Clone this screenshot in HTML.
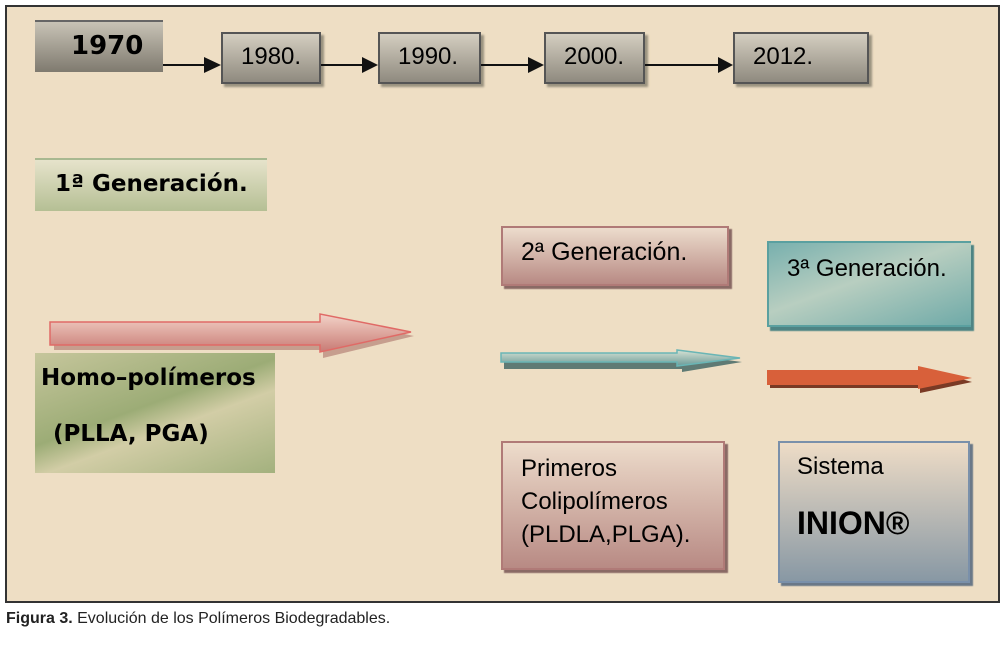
<!DOCTYPE html>
<html><head><meta charset="utf-8"><style>
body{margin:0;width:1007px;height:645px;background:#fff;position:relative;overflow:hidden;font-family:"Liberation Sans",sans-serif}
.frame{position:absolute;left:5px;top:5px;width:991px;height:594px;border:2px solid #333;background:#eedec4}
.b{position:absolute;box-sizing:border-box}
.yr{background:linear-gradient(#d4cec0,#8f8a7f);border:2px solid #555;box-shadow:3px 3px 2px #9a927f;font-size:24px;padding:9px 0 0 18px}
.cap{position:absolute;left:6px;top:610px;font-size:16px;color:#222}
</style></head><body>
<div class="frame"></div>
<div class="b" style="left:35px;top:20px;width:128px;height:52px;border-top:2px solid #666;font-family:'DejaVu Sans',sans-serif;font-weight:bold;font-size:26px;padding:9px 0 0 36px;background-image:linear-gradient(#c8c3b6,#7f7a6f)">1970</div>
<div class="b yr" style="left:221px;top:32px;width:100px;height:52px">1980.</div>
<div class="b yr" style="left:378px;top:32px;width:103px;height:52px">1990.</div>
<div class="b yr" style="left:544px;top:32px;width:101px;height:52px">2000.</div>
<div class="b yr" style="left:733px;top:32px;width:136px;height:52px">2012.</div>
<svg style="position:absolute;left:0;top:0" width="1007" height="645">
<g stroke="#111" stroke-width="2"><line x1="163" y1="65" x2="206" y2="65"/><line x1="321" y1="65" x2="364" y2="65"/><line x1="481" y1="65" x2="530" y2="65"/><line x1="645" y1="65" x2="720" y2="65"/></g>
<g fill="#111"><path d="M204,57 L221,65 L204,73Z"/><path d="M362,57 L378,65 L362,73Z"/><path d="M528,57 L544,65 L528,73Z"/><path d="M718,57 L733,65 L718,73Z"/></g>
<defs>
<linearGradient id="pk" x1="0" y1="0" x2="0" y2="1"><stop offset="0" stop-color="#f3d3c8"/><stop offset="1" stop-color="#c87a74"/></linearGradient>
<linearGradient id="tl" x1="0" y1="0" x2="0" y2="1"><stop offset="0" stop-color="#d8e3d4"/><stop offset="1" stop-color="#6a9a98"/></linearGradient>
</defs>
<path d="M52,322 L321,322 L321,314 L412,333 L321,355 L321,347 L52,347Z" fill="#9d5d58" opacity=".5" transform="translate(2,3)"/>
<path d="M50,322 L320,322 L320,314 L411,332 L320,352 L320,345 L50,345Z" fill="url(#pk)" stroke="#e06a66" stroke-width="1.5"/>
<path d="M502,354 L680,354 L680,351 L740,359 L680,369 L680,366 L502,366Z" fill="#5f7a74" transform="translate(2,3)"/>
<path d="M501,353 L677,353 L677,350 L740,358 L677,366 L677,362 L501,362Z" fill="url(#tl)" stroke="#6ab5b5" stroke-width="1.5"/>
<path d="M770,373 L920,373 L920,367 L972,382 L920,393 L920,388 L770,388Z" fill="#7a3a25"/>
<path d="M767,370 L918,370 L918,366 L972,378 L918,389 L918,385 L767,385Z" fill="#d8603a"/>
</svg>
<div class="b" style="left:35px;top:158px;width:232px;height:53px;border-top:2px solid #a8b890;background:linear-gradient(#e6e3cb,#b5bf94);font-family:'DejaVu Sans',sans-serif;font-weight:bold;font-size:23px;padding:11px 0 0 20px">1ª Generación.</div>
<div class="b" style="left:35px;top:353px;width:240px;height:120px;background:linear-gradient(160deg,#c6c69c,#9cac76 45%,#d2cda6 60%,#a3b17e);font-family:'DejaVu Sans',sans-serif;font-weight:bold;font-size:23px;padding:14px 0 0 6px;line-height:1">Homo–polímeros<div style="margin:33px 0 0 12px">(PLLA, PGA)</div></div>
<div class="b" style="left:501px;top:226px;width:228px;height:60px;border:2px solid #b07a77;background:linear-gradient(#ecdccc,#b88a84);box-shadow:3px 3px 1px #8a6a65;font-size:25px;padding:10px 0 0 18px">2ª Generación.</div>
<div class="b" style="left:767px;top:241px;width:204px;height:86px;border:2px solid #5aa0a0;border-right:none;background:linear-gradient(160deg,#78b0ae,#b8cec0 45%,#6faaa8);box-shadow:3px 4px 1px #4e8484;font-size:24px;padding:12px 0 0 18px">3ª Generación.</div>
<div class="b" style="left:501px;top:441px;width:224px;height:129px;border:2px solid #b07a77;background:linear-gradient(#eddccb,#b88a84);box-shadow:3px 3px 1px #8a6a65;font-size:24px;line-height:33px;padding:9px 0 0 18px">Primeros<br>Colipolímeros<br>(PLDLA,PLGA).</div>
<div class="b" style="left:778px;top:441px;width:192px;height:142px;border:2px solid #7a90aa;background:linear-gradient(#eedcc6,#8898a4);box-shadow:3px 3px 1px #6a7888;font-size:24px;padding:10px 0 0 17px">Sistema<div style="font-weight:bold;font-size:32px;margin-top:24px">INION®</div></div>
<div class="cap"><b>Figura 3.</b> Evolución de los Polímeros Biodegradables.</div>
</body></html>
